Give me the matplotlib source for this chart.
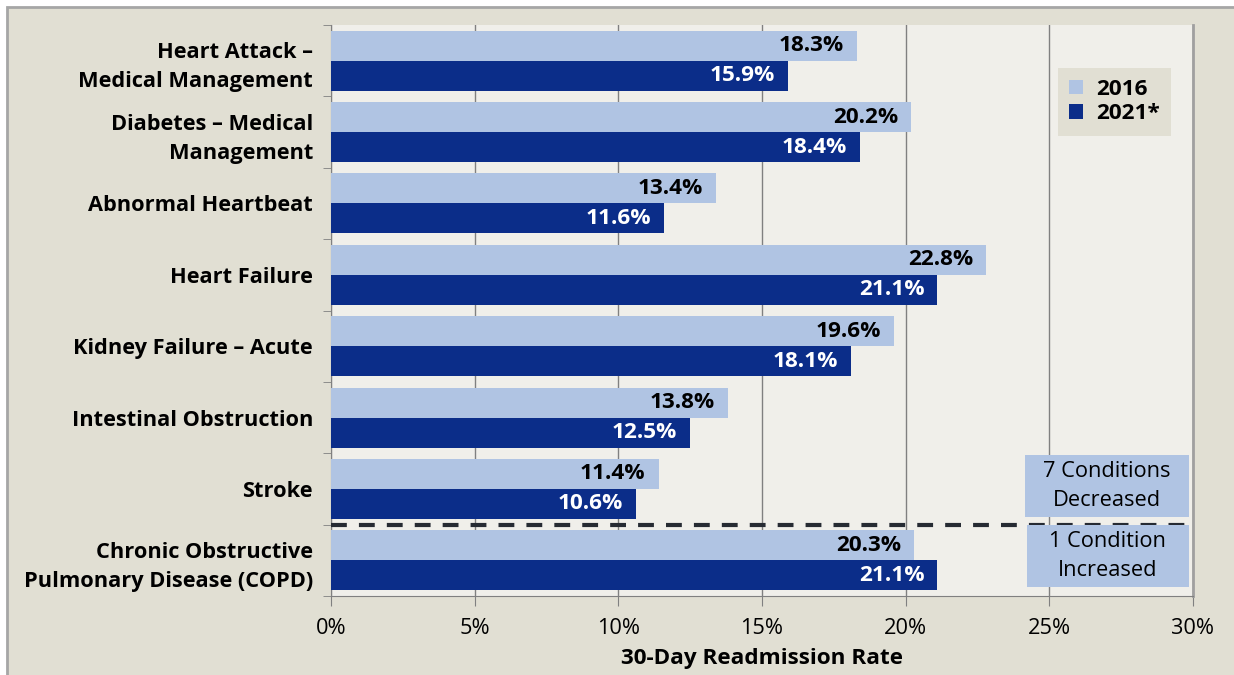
import numpy as np
import matplotlib.pyplot as plt
from matplotlib.patches import Rectangle

plt.rcParams['font.family'] = ['Open Sans', 'DejaVu Sans']

# --- Data ---
conditions = ["Heart Attack \u2013\nMedical Management", "Diabetes \u2013 Medical\nManagement",
              "Abnormal Heartbeat", "Heart Failure", "Kidney Failure \u2013 Acute",
              "Intestinal Obstruction", "Stroke",
              "Chronic Obstructive\nPulmonary Disease (COPD)"]
rate_2016 = [18.3, 20.2, 13.4, 22.8, 19.6, 13.8, 11.4, 20.3]
rate_2021 = [15.9, 18.4, 11.6, 21.1, 18.1, 12.5, 10.6, 21.1]
x_ticks = [0, 5, 10, 15, 20, 25, 30]

light = '#B0C4E3'
dark = '#0B2D89'
fig_bg = '#E1DFD3'
plot_bg = '#F0EFEA'
fs = 15.7

fig = plt.figure(figsize=(12.34, 6.75), dpi=100)
fig.patch.set_facecolor('white')
fig.patches.append(Rectangle((7 / 1234, -0.1), 1.2, 1.1 - 7 / 675, transform=fig.transFigure,
                             facecolor=fig_bg, edgecolor='#A6A6A6', linewidth=2, zorder=-10))
ax = fig.add_axes([331 / 1234, 1 - 596 / 675, 862 / 1234, 571 / 675])
ax.set_facecolor(plot_bg)

y = np.arange(len(conditions))
h = 0.42
ax.barh(y - h / 2, rate_2016, height=h, color=light, label='2016', zorder=3)
ax.barh(y + h / 2, rate_2021, height=h, color=dark, label='2021*', zorder=3)

# value labels at bar ends
for i, (a, b) in enumerate(zip(rate_2016, rate_2021)):
    ax.text(a - 0.45, i - h / 2, f"{a:.1f}%", ha='right', va='center', fontsize=fs + 0.5,
            fontweight='bold', color='black', zorder=4)
    ax.text(b - 0.45, i + h / 2, f"{b:.1f}%", ha='right', va='center', fontsize=fs + 0.5,
            fontweight='bold', color='white', zorder=4)

ax.set_xlim(0, 30)
ax.set_ylim(len(conditions) - 0.5, -0.5)
ax.set_xticks(x_ticks)
ax.set_xticklabels([f"{t}%" for t in x_ticks], fontsize=fs)
ax.set_yticks(y)
ax.set_yticklabels(conditions, fontsize=fs, fontweight='bold', linespacing=1.5)
ax.set_yticks(np.arange(-0.5, len(conditions)), minor=True)
ax.tick_params(axis='y', which='major', length=0, pad=13)
ax.tick_params(axis='y', which='minor', length=6, color='#808080', direction='out')
ax.tick_params(axis='x', length=7, color='#808080', direction='out', pad=9)
ax.grid(axis='x', color='#808080', linewidth=1, zorder=1)
ax.set_axisbelow(True)

ax.spines['top'].set_visible(False)
ax.spines['left'].set_color('#808080')
ax.spines['bottom'].set_color('#808080')
ax.spines['right'].set_color('#A0A0A0')
ax.spines['right'].set_linewidth(2)

ax.set_xlabel("30-Day Readmission Rate", fontsize=fs + 0.5, fontweight='bold', labelpad=6)

# divider between decreased and increased conditions
ax.axhline(6.5, color='#262B33', linewidth=3, dashes=(3.8, 2.9), zorder=5)

# annotation boxes
ax.add_patch(Rectangle((0.805, 0.138), 0.19, 0.109, transform=ax.transAxes,
                       facecolor=light, edgecolor='none', zorder=6))
ax.add_patch(Rectangle((0.807, 0.016), 0.188, 0.108, transform=ax.transAxes,
                       facecolor=light, edgecolor='none', zorder=6))
ax.text(0.9, 0.193, "7 Conditions\nDecreased", transform=ax.transAxes, ha='center', va='center',
        fontsize=fs, linespacing=1.5, zorder=7)
ax.text(0.901, 0.070, "1 Condition\nIncreased", transform=ax.transAxes, ha='center', va='center',
        fontsize=fs, linespacing=1.5, zorder=7)

leg = ax.legend(loc='upper right', bbox_to_anchor=(0.975, 0.925), frameon=True, fancybox=False,
                prop={'weight': 'bold', 'size': fs + 0.5}, handlelength=0.6, handleheight=0.6,
                handletextpad=0.6, borderpad=0.5, labelspacing=0.15, borderaxespad=0)
leg.get_frame().set_facecolor(fig_bg)
leg.get_frame().set_edgecolor('none')
leg.get_frame().set_alpha(1)

fig.savefig('out.png', dpi=100, facecolor=fig.get_facecolor())
